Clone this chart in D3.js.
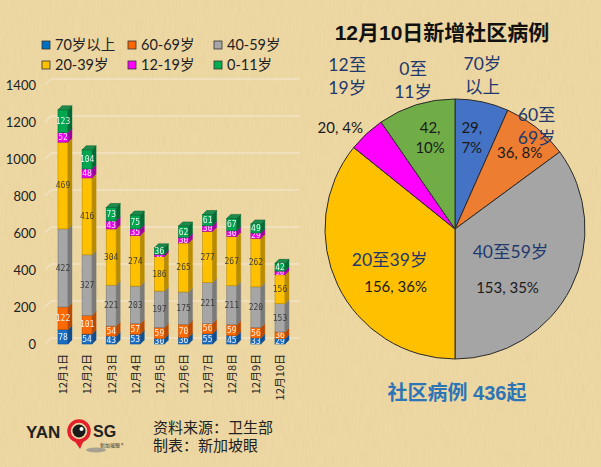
<!DOCTYPE html>
<html><head><meta charset="utf-8">
<script src="https://cdn.jsdelivr.net/npm/d3@7/dist/d3.min.js"></script>
<style>
html,body{margin:0;padding:0;background:#EDD7A3;}
svg{display:block;}
</style></head>
<body>
<svg id="c" width="601" height="467"></svg>
<script>
// ---------- data ----------
const dates = ["12月1日","12月2日","12月3日","12月4日","12月5日","12月6日","12月7日","12月8日","12月9日","12月10日"];
const groups = ["70岁以上","60-69岁","40-59岁","20-39岁","12-19岁","0-11岁"];
const age70plus = [78,54,43,53,30,36,55,45,33,29];
const age60_69  = [122,101,54,57,59,70,56,59,56,36];
const age40_59  = [422,327,221,203,197,175,221,211,220,153];
const age20_39  = [469,416,304,274,186,265,277,267,262,156];
const age12_19  = [52,48,43,35,12,30,30,30,29,20];
const age0_11   = [123,104,73,75,36,62,61,67,49,42];
const yTicks = [0,200,400,600,800,1000,1200,1400];

const pieNames = ["70岁\n以上","60至\n69岁","40至59岁","20至39岁","12至\n19岁","0至\n11岁"];
const pieValues = [29,36,153,156,20,42];
const piePct = ["7%","8%","35%","36%","4%","10%"];
const pieTotal = 436;

// ---------- styles ----------
const barColors = ["#1B6EC2","#FF6A00","#A6A6A6","#FFC000","#F000F0","#00A650"];
const sideColors = ["#0F4F8F","#B84A00","#7A7A7A","#B98C00","#A000A0","#006B34"];
const barText = ["#fff","#fff","#333","#333","#fff","#fff"];
const legendColors = ["#0070C0","#FF6600","#A6A6A6","#FFC000","#FF00FF","#00B050"];
const pieColors = ["#4472C4","#ED7D31","#A5A5A5","#FFC000","#FF00FF","#70AD47"];
const latin = "Lato, 'Noto Sans CJK SC', sans-serif";
const cjk = "'Noto Sans CJK SC', sans-serif";

const svg = d3.select("#c");

// background texture
const defs = svg.append("defs");
const f = defs.append("filter").attr("id","paper").attr("x",0).attr("y",0).attr("width","100%").attr("height","100%");
f.append("feTurbulence").attr("type","fractalNoise").attr("baseFrequency","0.9 0.06").attr("numOctaves",2).attr("seed",3).attr("result","n");
f.append("feColorMatrix").attr("type","matrix")
  .attr("values","0 0 0 0 0.6  0 0 0 0 0.47  0 0 0 0 0.2  0 0 0 -0.9 0.55");
svg.append("rect").attr("width",601).attr("height",467).attr("fill","#EDD7A3");
svg.append("rect").attr("width",601).attr("height",467).attr("filter","url(#paper)").attr("opacity",0.3);

// ---------- bar chart ----------
const y = d3.scaleLinear().domain([0,1400]).range([344,85]);
const x = d3.scalePoint().domain(dates).range([63,280]);
const bw = 10, dep = 4;

// gridlines (back wall)
const grid = svg.append("g");
yTicks.forEach(t=>{
  grid.append("path")
    .attr("d",`M45,${y(t)} L51,${y(t)-6} L300,${y(t)-6}`)
    .attr("fill","none").attr("stroke","#F4EEE2").attr("stroke-opacity",0.55).attr("stroke-width",1.4);
});

// y axis
const yAxis = svg.append("g").attr("transform","translate(44,0)")
  .call(d3.axisLeft(y).tickValues(yTicks).tickFormat(d3.format("d")).tickSize(0).tickPadding(8));
yAxis.select(".domain").remove();
yAxis.selectAll("text").attr("font-family",latin).attr("font-size",13).attr("fill","#222");

// x axis
const xAxis = svg.append("g").attr("transform","translate(0,352)")
  .call(d3.axisBottom(x).tickSize(0).tickPadding(0));
xAxis.select(".domain").remove();
xAxis.selectAll("text")
  .attr("transform","rotate(-90)").attr("text-anchor","end")
  .attr("x",-2).attr("y",0).attr("dy","0.35em")
  .attr("font-family",cjk).attr("font-size",11).attr("fill","#222");

// stacked bars
const rows = dates.map((d,i)=>({date:d, g0:age70plus[i], g1:age60_69[i], g2:age40_59[i], g3:age20_39[i], g4:age12_19[i], g5:age0_11[i]}));
const keys = ["g0","g1","g2","g3","g4","g5"];
const stacked = d3.stack().keys(keys)(rows);
const bars = svg.append("g");
stacked.forEach((layer,k)=>{
  layer.forEach(seg=>{
    const cx = x(seg.data.date), x0 = cx-bw/2;
    const yt = y(seg[1]), yb = y(seg[0]);
    bars.append("rect").attr("x",x0).attr("y",yt).attr("width",bw).attr("height",yb-yt)
      .attr("fill",barColors[k]).attr("stroke",sideColors[k]).attr("stroke-width",0.6);
    bars.append("path").attr("d",`M${x0+bw},${yb} L${x0+bw+dep},${yb-dep} L${x0+bw+dep},${yt-dep} L${x0+bw},${yt} Z`)
      .attr("fill",sideColors[k]).attr("stroke",sideColors[k]).attr("stroke-width",0.4);
    if(k===keys.length-1){
      bars.append("path").attr("d",`M${x0},${yt} L${x0+dep},${yt-dep} L${x0+bw+dep},${yt-dep} L${x0+bw},${yt} Z`)
        .attr("fill","#1E8A4E").attr("stroke","#005A2A").attr("stroke-width",0.5);
    }
    const h = yb-yt;
    bars.append("text").attr("x",cx).attr("y",(yt+yb)/2).attr("dy","0.35em")
      .attr("text-anchor","middle").attr("font-family","'DejaVu Sans Mono', monospace")
      .attr("font-size", Math.min(8, h+3)).attr("fill",barText[k]).attr("opacity",0.9)
      .text(seg.data[keys[k]]);
  });
});

// legend
const leg = svg.append("g");
groups.forEach((g,i)=>{
  const col = i%3, row = Math.floor(i/3);
  const lx = [46,132,218][col], ly = [45,65][row];
  leg.append("rect").attr("x",lx-4).attr("y",ly-4).attr("width",8).attr("height",8)
    .attr("fill",legendColors[i]).attr("stroke","#333").attr("stroke-width",0.8);
  leg.append("text").attr("x",lx+9).attr("y",ly).attr("dy","0.36em")
    .attr("font-family",latin).attr("font-size",14.5).attr("fill","#222").text(g);
});

// ---------- pie ----------
const pc = [455,229], R = 130;
const pie = d3.pie().sort(null).value(d=>d);
const arcs = pie(pieValues);
const arc = d3.arc().innerRadius(0).outerRadius(R);
const lblArc = d3.arc().innerRadius(R*0.72).outerRadius(R*0.72);
const pg = svg.append("g").attr("transform",`translate(${pc[0]},${pc[1]})`);
pg.selectAll("path").data(arcs).join("path").attr("d",arc)
  .attr("fill",(d,i)=>pieColors[i]).attr("stroke","#2a2a2a").attr("stroke-width",1);

// label layout offsets relative to slice centroid
const valOff = [[-5,0],[6,-3],[-31,16],[25,17],[-51,-33],[3,-2]];
const nameOff = [[8,-62],[23,-30],[-28,-19],[19,-10],[-44,-84],[-14,-59]];
const valLines = arcs.map((a,i)=>{
  return (i===0||i===5) ? [pieValues[i]+",", piePct[i]] : [pieValues[i]+", "+piePct[i]];
});
arcs.forEach((a,i)=>{
  const c = lblArc.centroid(a);
  const vx = c[0]+valOff[i][0], vy = c[1]+valOff[i][1];
  const vt = pg.append("text").attr("font-family",latin).attr("font-size",15).attr("fill","#1a1a1a")
    .attr("text-anchor", i===0 ? "start" : "middle");
  const vl = valLines[i];
  vl.forEach((s,j)=>{
    vt.append("tspan").attr("x", i===0 ? vx-8 : vx).attr("y", vy + (j-(vl.length-1)/2)*20).attr("dy","0.35em").text(s);
  });
  const nx = c[0]+nameOff[i][0], ny = c[1]+nameOff[i][1];
  const lines = pieNames[i].split("\n");
  const nt = pg.append("text").attr("font-family",latin).attr("font-size",17.5).attr("fill","#22396E")
    .attr("text-anchor","middle");
  lines.forEach((s,j)=>{
    nt.append("tspan").attr("x",nx).attr("y",ny+(j-(lines.length-1)/2)*23).attr("dy","0.35em").text(s);
  });
});

// titles
svg.append("text").attr("x",442).attr("y",40).attr("text-anchor","middle")
  .attr("font-family","'Liberation Sans', 'Noto Sans CJK SC', sans-serif").attr("font-weight","bold")
  .attr("font-size",21).attr("fill","#111").text("12月10日新增社区病例");
svg.append("text").attr("x",457).attr("y",400).attr("text-anchor","middle")
  .attr("font-family","'Liberation Sans', 'Noto Sans CJK SC', sans-serif").attr("font-weight","bold")
  .attr("font-size",20).attr("fill","#2E75B6").text("社区病例 436起");

// footer
svg.append("text").attr("x",153).attr("y",433).attr("font-family",cjk).attr("font-size",15).attr("fill","#222").text("资料来源：卫生部");
svg.append("text").attr("x",153).attr("y",451).attr("font-family",cjk).attr("font-size",15).attr("fill","#222").text("制表：新加坡眼");

// logo
const lg = svg.append("g");
lg.append("ellipse").attr("cx",96).attr("cy",450).attr("rx",10).attr("ry",2.5).attr("fill","#8a8a8a").attr("opacity",0.7);
lg.append("text").attr("x",26).attr("y",438).attr("font-family","'Liberation Sans', sans-serif").attr("font-weight","bold").attr("font-size",17).attr("fill","#222").text("YAN");
lg.append("path").attr("d","M74,440 L80,449 L84,440 Z").attr("fill","#E3202B");
lg.append("circle").attr("cx",79).attr("cy",431).attr("r",10).attr("fill","none").attr("stroke","#E3202B").attr("stroke-width",3.5);
lg.append("circle").attr("cx",79).attr("cy",431).attr("r",6.5).attr("fill","#1a1a1a");
lg.append("circle").attr("cx",81.5).attr("cy",429).attr("r",2).attr("fill","#fff");
lg.append("text").attr("x",93).attr("y",437).attr("font-family","'Liberation Sans', sans-serif").attr("font-weight","bold").attr("font-size",16).attr("fill","#222").text("SG");
lg.append("text").attr("x",100).attr("y",447).attr("font-family",cjk).attr("font-size",5).attr("fill","#333").text("新加坡眼 ®");
</script>
</body></html>
